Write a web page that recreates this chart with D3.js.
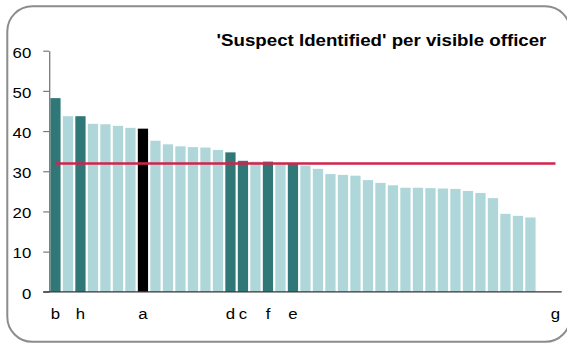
<!DOCTYPE html>
<html>
<head>
<meta charset="utf-8">
<script src="https://cdn.jsdelivr.net/npm/d3@7"></script>
<style>
  html, body { margin: 0; padding: 0; background: #fff; }
  svg { display: block; }
  text { font-family: "Liberation Sans", Arial, Helvetica, sans-serif; }
</style>
</head>
<body>
<svg id="chart" width="567" height="344"></svg>
<script>
// ---- data ----
const categories = ["b","","h","","","","","a","","","","","","","d","c","","f","","e","","","","","","","","","","","","","","","","","","","","","g"];
const values = [48.2, 43.7, 43.7, 41.8, 41.7, 41.3, 40.8, 40.6, 37.6, 36.7,
                36.2, 36.0, 35.9, 35.3, 34.7, 32.6, 32.4, 32.4, 31.9, 31.8,
                31.4, 30.6, 29.3, 29.1, 28.9, 27.8, 27.1, 26.5, 25.9, 25.9,
                25.8, 25.7, 25.6, 25.1, 24.6, 23.3, 19.4, 18.9, 18.5, null, null];
const groups = ["hi","base","hi","base","base","base","base","focus","base","base",
                "base","base","base","base","hi","hi","base","hi","base","hi",
                "base","base","base","base","base","base","base","base","base","base",
                "base","base","base","base","base","base","base","base","base","base","base"];
const averageValue = 31.9;
const yTicks = [0, 10, 20, 30, 40, 50, 60];
const title = "'Suspect Identified' per visible officer";

// ---- styling ----
const colors = { base: "#afd6d9", hi: "#2f7877", focus: "#000000" };
const svg = d3.select("#chart");
const W = 567, H = 344;

svg.append("rect").attr("x", 0).attr("y", 0).attr("width", W).attr("height", H).attr("fill", "#fff");
// frame
svg.append("rect")
  .attr("x", 7.3).attr("y", 6.3).attr("width", 563).attr("height", 335.5)
  .attr("rx", 25).attr("ry", 25)
  .attr("fill", "none").attr("stroke", "#8c8c8c").attr("stroke-width", 2);

const ids = d3.range(categories.length);
const x = d3.scaleBand().domain(ids).range([49.2, 561.7]).paddingInner(0.18).paddingOuter(0.09);
const y = d3.scaleLinear().domain([0, 60]).range([291.8, 50.7]);

// bars
svg.append("g").selectAll("rect")
  .data(ids.filter(i => values[i] != null))
  .join("rect")
  .attr("x", i => x(i))
  .attr("width", x.bandwidth())
  .attr("y", i => y(values[i]))
  .attr("height", i => y(0) - y(values[i]))
  .attr("fill", i => colors[groups[i]]);

// y axis
const yAxis = svg.append("g")
  .attr("transform", `translate(${x.range()[0]},0)`)
  .call(d3.axisLeft(y).tickValues(yTicks).tickSize(6).tickSizeOuter(0).tickPadding(10));
yAxis.select(".domain").attr("stroke", "#7a7a7a").attr("stroke-width", 1.3);
yAxis.selectAll(".tick line").attr("stroke", "#7a7a7a").attr("stroke-width", 1.2);
yAxis.selectAll(".tick text")
  .attr("fill", "#000")
  .attr("font-size", 15)
  .attr("dy", "0.42em")
  .attr("transform", "scale(1.12,1)");

// x baseline
svg.append("line")
  .attr("x1", x.range()[0] - 6).attr("x2", x.range()[1])
  .attr("y1", y(0)).attr("y2", y(0))
  .attr("stroke", "#333").attr("stroke-width", 1.3);

// x axis labels
const xAxis = svg.append("g")
  .attr("transform", `translate(0,${y(0)})`)
  .call(d3.axisBottom(x).tickSize(0).tickPadding(17).tickFormat(i => categories[i]));
xAxis.select(".domain").remove();
xAxis.selectAll(".tick text")
  .attr("fill", "#000")
  .attr("font-size", 15)
  .attr("transform", "scale(1.12,1)");

// average line
const line = d3.line().x(i => x(i) + x.bandwidth() / 2).y(() => y(averageValue));
svg.append("path")
  .datum([ids[0], ids[ids.length - 1]])
  .attr("d", line)
  .attr("fill", "none")
  .attr("stroke", "#d3234c")
  .attr("stroke-width", 2.5);

// title
svg.append("text")
  .attr("transform", "translate(381.5,45.7) scale(1.1,1)")
  .attr("text-anchor", "middle")
  .attr("font-size", 17)
  .attr("font-weight", "bold")
  .attr("fill", "#000")
  .text(title);
</script>
</body>
</html>
